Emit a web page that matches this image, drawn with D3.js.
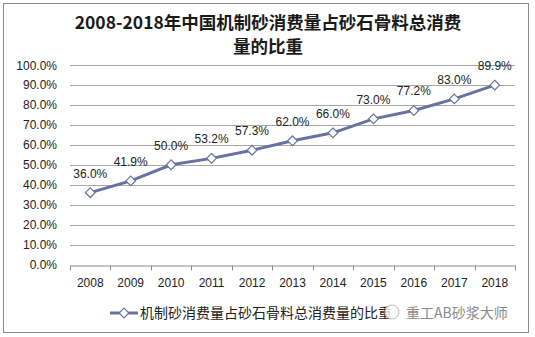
<!DOCTYPE html>
<html><head><meta charset="utf-8">
<script src="https://cdn.jsdelivr.net/npm/d3@7"></script>
<style>body{margin:0;background:#fff}svg{display:block}</style>
</head><body>
<svg id="c" width="535" height="337"></svg>
<script>
const years = ["2008","2009","2010","2011","2012","2013","2014","2015","2016","2017","2018"];
const shares = [36.0, 41.9, 50.0, 53.2, 57.3, 62.0, 66.0, 73.0, 77.2, 83.0, 89.9];
const yTicks = [0,10,20,30,40,50,60,70,80,90,100];
const titleLines = ["2008-2018年中国机制砂消费量占砂石骨料总消费","量的比重"];
const seriesName = "机制砂消费量占砂石骨料总消费量的比重";
const watermark = "重工AB砂浆大师";

const svg = d3.select("#c");
const col = "#6971a0";
svg.append("rect").attr("x",3.5).attr("y",3.5).attr("width",525).attr("height",329)
  .attr("fill","#fff").attr("stroke","#8c8c8c").attr("stroke-width",1);

const x = d3.scaleBand().domain(years).range([70,515]);
const y = d3.scaleLinear().domain([0,100]).range([264.5,65]);

// title
svg.append("g").selectAll("text").data(titleLines).join("text")
  .attr("x",268).attr("y",(d,i)=>29+i*24).attr("text-anchor","middle")
  .attr("font-family","'Noto Sans CJK SC', sans-serif").attr("font-weight","bold")
  .attr("font-size",17.5).attr("fill","#1a1a1a").text(d=>d);

// grid
svg.append("g").selectAll("line").data(yTicks.filter(t=>t>0)).join("line")
  .attr("x1",70).attr("x2",515).attr("y1",d=>Math.round(y(d))+0.5).attr("y2",d=>Math.round(y(d))+0.5)
  .attr("stroke","#a6a6a6").attr("stroke-width",1);

// y axis labels
svg.append("g").selectAll("text").data(yTicks).join("text")
  .attr("x",57).attr("y",d=>y(d)+4.5).attr("text-anchor","end")
  .attr("font-family","'Liberation Sans', Arial, sans-serif").attr("font-size",12).attr("fill","#222")
  .text(d=>d.toFixed(1)+"%");

// x axis
const xa = svg.append("g").attr("transform",`translate(0,${Math.round(y(0))+0.5})`)
  .call(d3.axisBottom(x).tickSize(5).tickSizeOuter(0).tickFormat(d=>d));
xa.select(".domain").attr("stroke","#8c8c8c");
xa.selectAll(".tick line").remove();
// band boundary ticks
const bounds = years.map(d=>x(d)).concat([x.range()[1]]);
xa.append("g").selectAll("line").data(bounds).join("line")
  .attr("x1",d=>Math.round(d)+0.5).attr("x2",d=>Math.round(d)+0.5).attr("y1",0).attr("y2",5)
  .attr("stroke","#8c8c8c");
xa.selectAll(".tick text").attr("font-family","'Liberation Sans', Arial, sans-serif")
  .attr("font-size",12).attr("fill","#222").attr("dy","1.1em");

const cx = d=>x(d)+x.bandwidth()/2;
// line
svg.append("path").datum(shares.map((v,i)=>[years[i],v]))
  .attr("fill","none").attr("stroke",col).attr("stroke-width",3)
  .attr("d",d3.line().x(d=>cx(d[0])).y(d=>y(d[1])));

// markers
const sym = d3.symbol().type(d3.symbolDiamond2).size(60);
svg.append("g").selectAll("path").data(shares).join("path")
  .attr("transform",(d,i)=>`translate(${cx(years[i])},${y(d)}) rotate(0)`)
  .attr("d",sym).attr("fill","#fff").attr("stroke",col).attr("stroke-width",1.2);

// labels
svg.append("g").selectAll("text").data(shares).join("text")
  .attr("x",(d,i)=>cx(years[i])).attr("y",d=>y(d)-15).attr("text-anchor","middle")
  .attr("font-family","'Liberation Sans', Arial, sans-serif").attr("font-size",12).attr("fill","#222")
  .text(d=>d.toFixed(1)+"%");

// legend
const lg = svg.append("g");
lg.append("line").attr("x1",110).attr("x2",138).attr("y1",313).attr("y2",313).attr("stroke",col).attr("stroke-width",3);
lg.append("path").attr("transform","translate(124,313)").attr("d",sym).attr("fill","#fff").attr("stroke",col).attr("stroke-width",1.2);
lg.append("text").attr("x",140).attr("y",318).attr("font-family","'Noto Sans CJK SC', sans-serif")
  .attr("font-size",14).attr("fill","#222").text(seriesName);
// watermark
svg.append("circle").attr("cx",392).attr("cy",312).attr("r",7).attr("fill","#fff").attr("fill-opacity",0.8).attr("stroke","#bbb");
svg.append("text").attr("x",406).attr("y",318).attr("font-family","'Noto Sans CJK SC', sans-serif")
  .attr("font-size",14).attr("fill","#8a8a8a").text(watermark);
</script>
</body></html>
